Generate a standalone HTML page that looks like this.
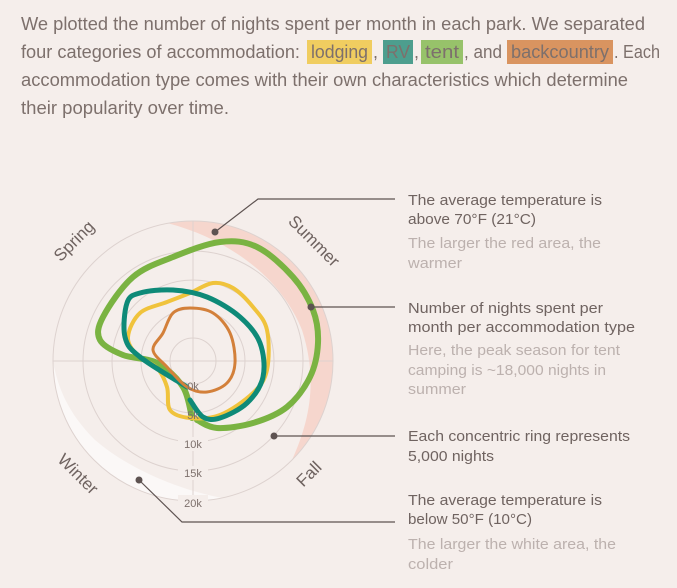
<!DOCTYPE html>
<html><head><meta charset="utf-8"><style>
html,body{margin:0;padding:0;background:#f5eeeb;}
svg{display:block;font-family:"Liberation Sans",sans-serif;}
.t{fill:#7d706c;font-size:18px;}
.r{fill:#6f6360;font-size:15px;}
.g{fill:#bcb1ae;font-size:15px;}
.ax{fill:#7d706c;font-size:11px;}
</style></head><body>
<svg width="677" height="588" viewBox="0 0 677 588">
<rect width="677" height="588" fill="#f5eeeb"/>
<rect x="307" y="40" width="65" height="24" fill="#f0cd60"/>
<rect x="383" y="40" width="30" height="24" fill="#4d9e8e"/>
<rect x="421" y="40" width="42" height="24" fill="#97c26a"/>
<rect x="507" y="40" width="106" height="24" fill="#d99460"/>
<text class="t" x="21" y="30" textLength="624" lengthAdjust="spacingAndGlyphs">We plotted the number of nights spent per month in each park. We separated</text>
<text class="t" x="21" y="58" textLength="279" lengthAdjust="spacingAndGlyphs">four categories of accommodation:</text>
<text class="t" x="311" y="58" textLength="57" lengthAdjust="spacingAndGlyphs">lodging</text>
<text class="t" x="373" y="58">,</text>
<text class="t" x="386" y="58" textLength="24" lengthAdjust="spacingAndGlyphs">RV</text>
<text class="t" x="414" y="58">,</text>
<text class="t" x="425" y="58" textLength="34" lengthAdjust="spacingAndGlyphs">tent</text>
<text class="t" x="464" y="58" textLength="38" lengthAdjust="spacingAndGlyphs">, and</text>
<text class="t" x="511" y="58" textLength="98" lengthAdjust="spacingAndGlyphs">backcountry</text>
<text class="t" x="614" y="58" textLength="46" lengthAdjust="spacingAndGlyphs">. Each</text>
<text class="t" x="21" y="86" textLength="607" lengthAdjust="spacingAndGlyphs">accommodation type comes with their own characteristics which determine</text>
<text class="t" x="21" y="114" textLength="208" lengthAdjust="spacingAndGlyphs">their popularity over time.</text>

<path d="M168,223.2 A140,140 0 0 1 292,460 C310,420 318,380 302,330 C282,280 232,240 168,223.2 Z" fill="#f6d6cd"/>
<path d="M53,361 A140,140 0 0 0 222,498 C180,490 130,470 95,440 C70,415 58,390 53,361 Z" fill="#fbf8f7"/>
<g fill="none" stroke="#ddd2cf" stroke-width="1">
<circle cx="193" cy="361" r="140"/>
<circle cx="193" cy="361" r="110"/>
<circle cx="193" cy="361" r="81"/>
<circle cx="193" cy="361" r="52"/>
<circle cx="193" cy="361" r="23"/>
<line x1="53" y1="361" x2="333" y2="361"/>
<line x1="193" y1="221" x2="193" y2="501"/>
</g>
<g class="ax" text-anchor="middle">
<rect x="178" y="437" width="30" height="14" fill="#f5eeeb"/>
<rect x="178" y="466" width="30" height="14" fill="#f5eeeb"/>
<rect x="178" y="495" width="30" height="14" fill="#f5eeeb"/>
</g>
<g fill="#6f6360" font-size="17" text-anchor="middle">
<text transform="translate(78,245) rotate(-45)">Spring</text>
<text transform="translate(310,245) rotate(45)">Summer</text>
<text transform="translate(313,478) rotate(-45)">Fall</text>
<text transform="translate(74,478) rotate(45)">Winter</text>
</g>
<g fill="none" stroke-linejoin="round" stroke-linecap="round">
<path id="pg" stroke="#7ab342" stroke-width="6"/>
<path id="py" stroke="#f0c33c" stroke-width="4"/>
<path id="pt" stroke="#0e8a78" stroke-width="5"/>
<path id="po" stroke="#d3803a" stroke-width="3"/>
</g>
<g class="ax" text-anchor="middle">
<text x="193" y="390">0k</text>
<text x="193" y="419">5k</text>
<text x="193" y="448">10k</text>
<text x="193" y="477">15k</text>
<text x="193" y="507">20k</text>
</g>
<g stroke="#5e5351" stroke-width="1.2" fill="none">
<polyline points="215,232 258,199 395,199"/>
<polyline points="311,307 395,307"/>
<polyline points="274,436 395,436"/>
<polyline points="139,480 182,522 395,522"/>
</g>
<g fill="#5e5351">
<circle cx="215" cy="232" r="3.5"/><circle cx="311" cy="307" r="3.5"/>
<circle cx="274" cy="436" r="3.5"/><circle cx="139" cy="480" r="3.5"/>
</g>
<text class="r" x="408" y="205" textLength="194" lengthAdjust="spacingAndGlyphs">The average temperature is</text>
<text class="r" x="408" y="224" textLength="128" lengthAdjust="spacingAndGlyphs">above 70°F (21°C)</text>
<text class="g" x="408" y="248" textLength="193" lengthAdjust="spacingAndGlyphs">The larger the red area, the</text>
<text class="g" x="408" y="268" textLength="54" lengthAdjust="spacingAndGlyphs">warmer</text>
<text class="r" x="408" y="313" textLength="195" lengthAdjust="spacingAndGlyphs">Number of nights spent per</text>
<text class="r" x="408" y="332" textLength="227" lengthAdjust="spacingAndGlyphs">month per accommodation type</text>
<text class="g" x="408" y="355" textLength="212" lengthAdjust="spacingAndGlyphs">Here, the peak season for tent</text>
<text class="g" x="408" y="375" textLength="198" lengthAdjust="spacingAndGlyphs">camping is ~18,000 nights in</text>
<text class="g" x="408" y="394" textLength="58" lengthAdjust="spacingAndGlyphs">summer</text>
<text class="r" x="408" y="441" textLength="222" lengthAdjust="spacingAndGlyphs">Each concentric ring represents</text>
<text class="r" x="408" y="461" textLength="86" lengthAdjust="spacingAndGlyphs">5,000 nights</text>
<text class="r" x="408" y="505" textLength="194" lengthAdjust="spacingAndGlyphs">The average temperature is</text>
<text class="r" x="408" y="524" textLength="124" lengthAdjust="spacingAndGlyphs">below 50°F (10°C)</text>
<text class="g" x="408" y="549" textLength="208" lengthAdjust="spacingAndGlyphs">The larger the white area, the</text>
<text class="g" x="408" y="569" textLength="45" lengthAdjust="spacingAndGlyphs">colder</text>
</svg>
<script>
function cr(p,closed){var n=p.length,d="M"+p[0][0]+","+p[0][1];
for(var i=0;i<n-1;i++){var p0=p[i>0?i-1:(closed?n-2:0)],p1=p[i],p2=p[i+1],p3=p[i+2<n?i+2:(closed?1:n-1)];
d+=" C"+(p1[0]+(p2[0]-p0[0])/6).toFixed(1)+","+(p1[1]+(p2[1]-p0[1])/6).toFixed(1)+" "+(p2[0]-(p3[0]-p1[0])/6).toFixed(1)+","+(p2[1]-(p3[1]-p1[1])/6).toFixed(1)+" "+p2[0]+","+p2[1];}
return d;}
var G=[[192,418],[183,387],[157,363],[123,355],[100,340],[103,317],[133,277],[173,257],[220,242],[257,247],[293,277],[313,310],[318,343],[310,377],[287,407],[253,423],[217,428],[197,420]];
var Y=[[167,387],[170,410],[190,418],[220,415],[253,393],[267,370],[267,330],[253,307],[233,288],[213,283],[190,293],[167,302],[140,313],[128,337],[137,355],[157,368],[167,387]];
var T=[[187,387],[140,357],[125,337],[127,303],[140,293],[173,290],[207,297],[240,317],[260,343],[263,377],[247,403],[220,418],[203,417],[190,400]];
var O=[[153,350],[163,333],[173,313],[190,308],[213,313],[230,333],[235,363],[227,383],[207,392],[187,387],[167,367],[153,350]];
document.getElementById("pg").setAttribute("d",cr(G,false));
document.getElementById("py").setAttribute("d",cr(Y,true));
document.getElementById("pt").setAttribute("d",cr(T,false));
document.getElementById("po").setAttribute("d",cr(O,true));
</script>
</body></html>
